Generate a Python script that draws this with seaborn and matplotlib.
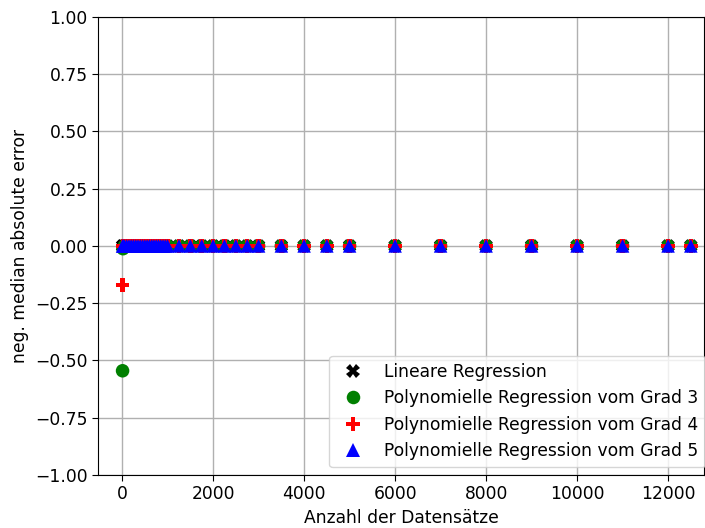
import numpy as np
import pandas as pd
import matplotlib
matplotlib.use("Agg")
import matplotlib.pyplot as plt
import seaborn as sns

# x values: number of records
x_values = [10, 20, 50, 100, 150, 200, 250, 300, 350, 400, 450, 500, 550, 600,
            650, 700, 750, 800, 850, 900, 950, 1000,
            1250, 1500, 1750, 2000, 2250, 2500, 2750, 3000,
            3500, 4000, 4500, 5000, 6000, 7000, 8000, 9000,
            10000, 11000, 12000, 12500]

series_names = ["Lineare Regression",
                "Polynomielle Regression vom Grad 3",
                "Polynomielle Regression vom Grad 4",
                "Polynomielle Regression vom Grad 5"]

n = len(x_values)
lin_values = [0.0] * n
grad3_values = [-0.545, -0.012] + [0.0] * (n - 2)
grad4_values = [-0.17, 0.0] + [0.0] * (n - 2)
grad5_values = [0.0] * n

colors = ["black", "green", "red", "blue"]
markers = ["X", "o", "P", "^"]

rows = []
for name, vals in zip(series_names, [lin_values, grad3_values, grad4_values, grad5_values]):
    for xv, yv in zip(x_values, vals):
        rows.append({"x": xv, "y": yv, "Modell": name})
df = pd.DataFrame(rows)

sns.set_style("ticks")
plt.rcParams["font.family"] = ["DejaVu Sans"]
plt.rcParams["text.color"] = "black"
plt.rcParams["axes.labelcolor"] = "black"
plt.rcParams["xtick.color"] = "black"
plt.rcParams["ytick.color"] = "black"

fig = plt.figure(figsize=(7.05, 5.28), dpi=100)
ax = fig.add_axes([0.139, 0.1004, 0.8596, 0.8676])

sns.scatterplot(data=df, x="x", y="y", hue="Modell", style="Modell",
                palette=dict(zip(series_names, colors)),
                markers=dict(zip(series_names, markers)),
                s=95, linewidth=0, ax=ax, zorder=3)

fs = 12.3
ax.set_xlim(-530, 12790)
ax.set_ylim(-1.0, 1.0)
ax.set_yticks(np.arange(-1.0, 1.01, 0.25))
ax.set_yticklabels([f"{v:.2f}".replace("-", "\u2212") for v in np.arange(-1.0, 1.01, 0.25)])
ax.set_xticks([0, 2000, 4000, 6000, 8000, 10000, 12000])
ax.grid(True, color="#b0b0b0", linewidth=1.0)
ax.set_axisbelow(True)
for side in ["top", "right", "left", "bottom"]:
    ax.spines[side].set_visible(True)
    ax.spines[side].set_color("black")
ax.tick_params(labelsize=fs, colors="black", labelcolor="black", length=4)
ax.set_xlabel("Anzahl der Datensätze", fontsize=fs, color="black")
ax.set_ylabel("neg. median absolute error", fontsize=fs, color="black")

leg = ax.legend(loc="lower right", fontsize=fs, frameon=True, title=None,
                bbox_to_anchor=(1.0, 1 - 467 / 528), bbox_transform=fig.transFigure,
                borderaxespad=0.0, markerscale=1.0)
leg.get_frame().set_edgecolor("#cccccc")
for t in leg.get_texts():
    t.set_color("black")

fig.savefig("out.png", dpi=100)
